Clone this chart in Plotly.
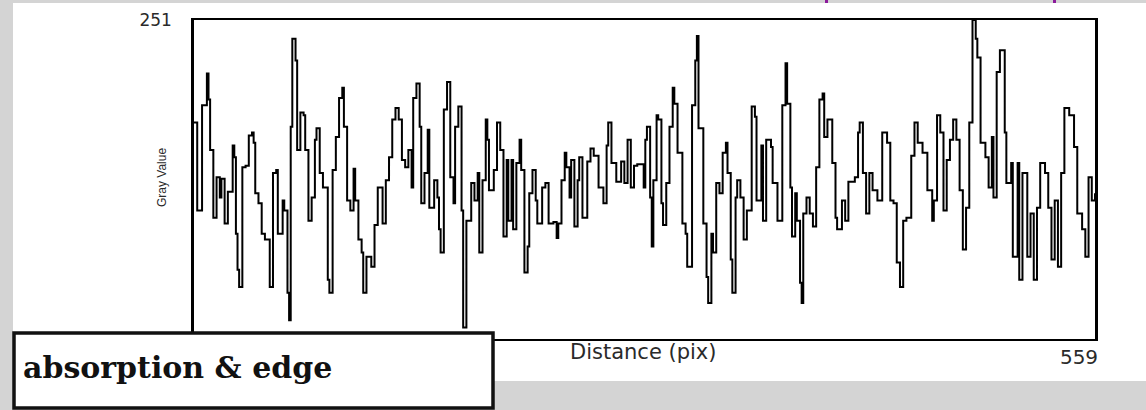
import plotly.graph_objects as go

# Line profile: distance along the line (pix) and gray value at each step
distance = [
    0, 2, 5, 8, 9, 10, 12, 14, 16, 17, 19, 21, 24, 25, 26, 27, 28, 30, 32, 34,
    36, 37, 38, 40, 42, 44, 47, 49, 51, 52, 55, 56, 58, 59, 60, 61, 63, 64, 66, 68,
    69, 71, 73, 75, 76, 78, 80, 83, 84, 86, 88, 90, 92, 93, 95, 97, 99, 100, 102, 104,
    105, 107, 110, 112, 114, 117, 119, 121, 123, 125, 127, 129, 131, 133, 135, 136, 138, 140, 141, 143,
    145, 146, 149, 151, 152, 153, 155, 157, 159, 161, 162, 164, 166, 167, 169, 172, 174, 176, 177, 179,
    181, 182, 183, 186, 188, 190, 192, 194, 195, 197, 198, 200, 202, 203, 205, 207, 208, 210, 212, 213,
    216, 218, 220, 223, 225, 226, 228, 230, 231, 233, 234, 236, 238, 239, 241, 244, 246, 248, 251, 254,
    256, 257, 259, 262, 265, 267, 269, 271, 273, 275, 279, 280, 281, 283, 284, 285, 287, 288, 290, 291,
    293, 295, 297, 298, 300, 303, 305, 306, 309, 311, 312, 313, 316, 318, 319, 321, 322, 324, 326, 328,
    330, 331, 333, 334, 336, 337, 339, 341, 343, 346, 348, 349, 352, 353, 355, 358, 359, 362, 365, 367,
    368, 370, 371, 373, 374, 376, 377, 378, 380, 382, 384, 386, 388, 390, 391, 393, 396, 398, 399, 402,
    404, 406, 410, 412, 413, 415, 417, 419, 421, 424, 427, 430, 432, 434, 436, 438, 440, 442, 445, 447,
    449, 452, 455, 458, 459, 461, 463, 465, 467, 469, 471, 473, 475, 477, 479, 481, 483, 485, 486, 488,
    491, 493, 495, 496, 498, 500, 503, 504, 507, 508, 511, 512, 514, 517, 519, 521, 523, 525, 528, 530,
    532, 534, 536, 538, 540, 543, 546, 548, 551, 553, 555, 557, 559,
]
gray_value = [
    180, 119, 192, 214, 196, 161, 114, 142, 128, 141, 110, 132, 164, 156, 103, 78, 66, 149, 150, 171,
    173, 166, 131, 124, 103, 99, 66, 145, 147, 103, 126, 119, 62, 43, 177, 238, 223, 161, 187, 185,
    161, 112, 128, 168, 176, 145, 135, 71, 62, 147, 170, 197, 204, 177, 126, 119, 148, 126, 99, 90,
    62, 87, 80, 109, 135, 110, 140, 156, 182, 190, 182, 154, 149, 161, 135, 197, 207, 177, 124, 145,
    175, 121, 140, 128, 106, 90, 189, 208, 142, 124, 177, 191, 119, 38, 112, 138, 126, 145, 90, 140,
    182, 168, 133, 147, 180, 161, 101, 154, 112, 154, 106, 152, 168, 147, 76, 94, 131, 147, 126, 110,
    135, 138, 110, 111, 100, 110, 140, 159, 149, 128, 154, 108, 140, 156, 114, 153, 162, 157, 135, 124,
    164, 180, 152, 139, 153, 138, 168, 135, 150, 151, 135, 168, 177, 128, 94, 140, 185, 182, 124, 109,
    138, 177, 204, 193, 159, 110, 103, 80, 192, 223, 240, 176, 110, 73, 55, 103, 90, 138, 131, 159,
    166, 145, 85, 62, 128, 140, 128, 99, 119, 191, 184, 126, 164, 112, 168, 163, 138, 112, 192, 221,
    193, 135, 101, 131, 112, 69, 55, 117, 128, 117, 108, 149, 196, 200, 170, 182, 152, 114, 106, 126,
    112, 139, 142, 173, 180, 145, 117, 145, 133, 126, 173, 166, 126, 124, 83, 66, 112, 114, 157, 180,
    166, 159, 133, 112, 126, 185, 173, 119, 154, 168, 182, 168, 133, 92, 121, 180, 251, 238, 225, 166,
    156, 135, 170, 128, 215, 230, 173, 138, 152, 87, 152, 71, 145, 87, 117, 71, 121, 152, 145, 121,
    85, 126, 80, 145, 190, 185, 163, 117, 106, 87, 142, 126, 131,
]

y_ticks = [30, 251]
y_tick_text = ["<span style='font-size:13px'>30</span>", "251"]
x_ticks = [559]

W, H = 1146, 410
# pixel frame of the plotting area
left, right, top, bottom = 194, 1095, 20, 339


def px(x):
    return x / W


def py(y):
    return 1 - y / H


fig = go.Figure()
fig.add_trace(go.Scatter(
    x=distance, y=gray_value, mode="lines",
    line=dict(color="black", width=2, shape="hv"),
    hoverinfo="skip", showlegend=False,
))

sans = "DejaVu Sans, Liberation Sans, sans-serif"

fig.update_layout(
    width=W, height=H,
    margin=dict(l=0, r=0, t=0, b=0, autoexpand=False),
    paper_bgcolor="#d4d4d4",
    plot_bgcolor="white",
    xaxis=dict(
        domain=[px(left), px(right)], range=[0, 559], automargin=False,
        showgrid=False, zeroline=False, ticks="",
        tickvals=x_ticks, ticktext=[str(v) for v in x_ticks],
        tickfont=dict(family=sans, size=20, color="#2a2a2a"),
        ticklabelstandoff=-1, ticklabelshift=-16,
        showline=True, linecolor="black", linewidth=1.5, mirror=True,
    ),
    yaxis=dict(
        domain=[py(bottom), py(top)], range=[30, 251], automargin=False,
        showgrid=False, zeroline=False, ticks="",
        tickvals=y_ticks, ticktext=y_tick_text,
        tickfont=dict(family=sans, size=17, color="#2a2a2a"), ticklabelstandoff=16,
        showline=True, linecolor="black", linewidth=2.5, mirror=True,
    ),
    shapes=[
        # white sheet behind the plot
        dict(type="rect", xref="paper", yref="paper", layer="below",
             x0=px(13), x1=1, y0=py(381), y1=py(3),
             fillcolor="white", line=dict(width=0)),
        # purple fragments at the very top edge
        dict(type="rect", xref="paper", yref="paper", layer="above",
             x0=px(825), x1=px(828), y0=py(3), y1=1,
             fillcolor="#8b1a9b", line=dict(width=0)),
        dict(type="rect", xref="paper", yref="paper", layer="above",
             x0=px(1053), x1=px(1056), y0=py(3), y1=1,
             fillcolor="#8b1a9b", line=dict(width=0)),
        # caption box
        dict(type="rect", xref="paper", yref="paper", layer="above",
             x0=px(14), x1=px(493), y0=py(408), y1=py(333),
             fillcolor="white", line=dict(color="#111111", width=3.5)),
    ],
    annotations=[
        dict(text="Distance (pix)", xref="paper", yref="paper",
             x=px(643), y=py(352), xanchor="center", yanchor="middle",
             showarrow=False, font=dict(family=sans, size=21, color="#2a2a2a")),
        dict(text="Gray Value", xref="paper", yref="paper", textangle=-90,
             x=px(162), y=py(178), xanchor="center", yanchor="middle",
             showarrow=False, font=dict(family="Liberation Sans, Arial, sans-serif",
                                        size=12, color="#2a2a2a")),
        dict(text="absorption & edge", xref="paper", yref="paper",
             x=px(21), y=py(367), xanchor="left", yanchor="middle",
             showarrow=False, font=dict(family="DejaVu Serif, serif",
                                        size=30, weight="bold", color="#111111")),
    ],
)

fig.write_html("out.html")
